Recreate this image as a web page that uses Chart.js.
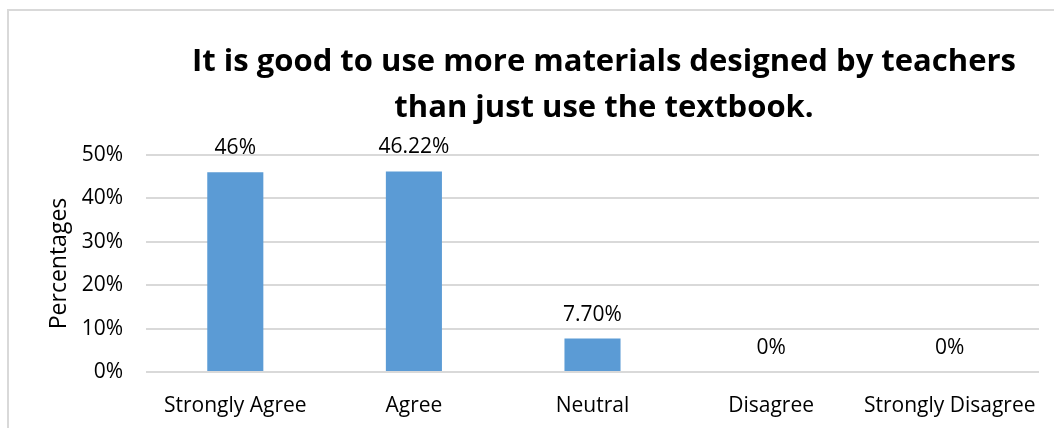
<!DOCTYPE html>
<html>
<head>
<meta charset="utf-8">
<script src="https://cdn.jsdelivr.net/npm/chart.js@4.4.0/dist/chart.umd.min.js"></script>
<style>
  html, body { margin: 0; padding: 0; background: #fff; }
  #wrap { position: relative; width: 1054px; height: 428px; }
</style>
</head>
<body>
<div id="wrap"><canvas id="c"></canvas></div>
<script>
const categories = ["Strongly Agree", "Agree", "Neutral", "Disagree", "Strongly Disagree"];
const values = [46, 46.22, 7.70, 0, 0];
const valueLabels = ["46%", "46.22%", "7.70%", "0%", "0%"];
const yTicks = [0, 10, 20, 30, 40, 50];
const titleLines = ["It is good to use more materials designed by teachers", "than just use the textbook."];
const yAxisTitle = "Percentages";

const FONT = "'Open Sans', sans-serif";

const decorPlugin = {
  id: 'decor',
  beforeDraw(chart) {
    const ctx = chart.ctx;
    ctx.save();
    ctx.strokeStyle = '#d9d9d9';
    ctx.lineWidth = 2;
    ctx.beginPath();
    ctx.moveTo(8, 430);
    ctx.lineTo(8, 10);
    ctx.lineTo(1060, 10);
    ctx.stroke();
    ctx.restore();
  },
  afterDraw(chart) {
    const ctx = chart.ctx;
    ctx.save();
    ctx.fillStyle = '#000';
    ctx.textAlign = 'center';
    ctx.textBaseline = 'alphabetic';
    ctx.font = "bold 31px " + FONT;
    ctx.fillText(titleLines[0], 604, 71);
    ctx.fillText(titleLines[1], 604, 117);
    ctx.font = "21px " + FONT;
    const meta = chart.getDatasetMeta(0);
    meta.data.forEach((bar, i) => {
      ctx.fillText(valueLabels[i], bar.x, bar.y - 18);
    });
    ctx.restore();
  }
};

new Chart(document.getElementById('c'), {
  type: 'bar',
  data: {
    labels: categories,
    datasets: [{
      data: values,
      backgroundColor: '#5B9BD5',
      borderWidth: 0,
      categoryPercentage: 1,
      barPercentage: 0.314
    }]
  },
  options: {
    responsive: true,
    maintainAspectRatio: false,
    animation: false,
    layout: { padding: { top: 155, right: 15, left: 0, bottom: 0 } },
    plugins: { legend: { display: false }, tooltip: { enabled: false }, title: { display: false } },
    scales: {
      x: {
        grid: { display: false },
        border: { display: false },
        ticks: { color: '#000', font: { family: FONT, size: 21 }, padding: 13, maxRotation: 0, autoSkip: false },
        afterFit(scale) { scale.height = 56; }
      },
      y: {
        min: 0, max: 50,
        afterBuildTicks(scale) { scale.ticks = yTicks.map(v => ({ value: v })); },
        grid: { color: '#d9d9d9', lineWidth: 2, drawTicks: false },
        border: { display: false },
        ticks: { color: '#000', font: { family: FONT, size: 21 }, padding: 23, callback: v => v + '%' },
        title: { display: true, text: yAxisTitle, color: '#000', font: { family: FONT, size: 23 }, padding: { top: 46, bottom: 0 } },
        afterFit(scale) { scale.width = 146; }
      }
    }
  },
  plugins: [decorPlugin]
});
</script>
</body>
</html>
